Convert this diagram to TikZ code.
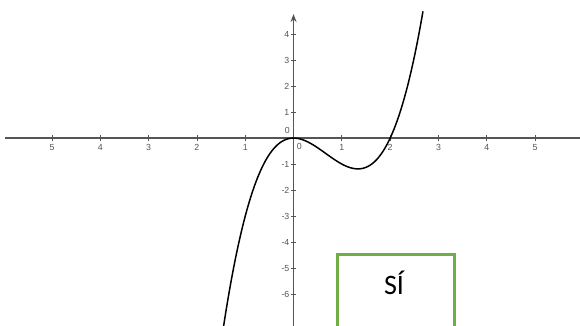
\documentclass[tikz,border=0pt]{standalone}
\usepackage{fontspec}
\setmainfont{Carlito}
\setsansfont{Liberation Sans}
\usetikzlibrary{arrows.meta, positioning}
\definecolor{okgreen}{HTML}{70AD47}
\definecolor{axisgray}{HTML}{555555}

\begin{document}
\begin{tikzpicture}[
        x=0.966cm, y=0.52cm,
        axis/.style={draw=axisgray, line width=0.7pt},
        tick/.style={draw=axisgray, line width=0.5pt},
        ticklbl/.style={font=\sffamily\fontsize{5}{6}\selectfont, text=axisgray, inner sep=0pt},
        curve/.style={draw=black, line width=0.85pt},
        answerbox/.style={
            rectangle, draw=okgreen, line width=1.7pt,
            minimum width=2.35cm, minimum height=2.2cm
        },
        answer/.style={font=\fontsize{16}{18}\selectfont, inner sep=0pt}
        ]

    % --- marco de la imagen ---
        \useasboundingbox (-6.077,-7.19) rectangle (5.93,5.31);
        \clip (-6.077,-7.19) rectangle (5.93,5.31);

    % --- ejes ---
        \coordinate (xmin) at (-5.97,0);
        \coordinate (xmax) at (5.93,0);
        \coordinate (ymin) at (0,-7.3);
        \coordinate (ymax) at (0,4.77);
        \draw[axis] (xmin) -- (xmax);
        \draw[axis, -{Stealth[length=1.6mm, width=1.2mm]}] (ymin) -- (ymax);

    % --- marcas del eje x ---
        \foreach \k in {1,...,5} {
            \draw[tick] (\k,0.1) -- (\k,-0.1);
            \draw[tick] (-\k,0.1) -- (-\k,-0.1);
            \node[ticklbl] (xp\k) at (\k,-0.35) {\k};
            \node[ticklbl] (xn\k) at (-\k,-0.35) {\k};
        }

    % --- marcas del eje y ---
        \foreach \k in {1,...,4}
            \draw[tick] (-0.05,\k) -- (0.05,\k);
        \foreach \k in {1,...,6}
            \draw[tick] (-0.05,-\k) -- (0.05,-\k);
        \foreach \k in {1,...,4}
            \node[ticklbl, anchor=east] (yp\k) at (-0.08,\k) {\k};
        \foreach \k in {1,...,6}
            \node[ticklbl, anchor=east] (yn\k) at (-0.08,-\k) {-\k};

        \node[ticklbl] (orgy) at (-0.13,0.3) {0};
        \node[ticklbl] (orgx) at (0.12,-0.33) {0};

    % --- la cúbica f(x) = x^3 - 2x^2 ---
        \draw[curve] plot[domain=-1.45:2.68, samples=120, smooth] (\x, {\x*\x*\x - 2*\x*\x});

    % --- respuesta ---
        \node[answerbox, anchor=north west] (sibox) at (0.874,-4.41) {};
        \node[answer] (si) at (2.08,-5.58) {SÍ};

    \end{tikzpicture}
\end{document}
